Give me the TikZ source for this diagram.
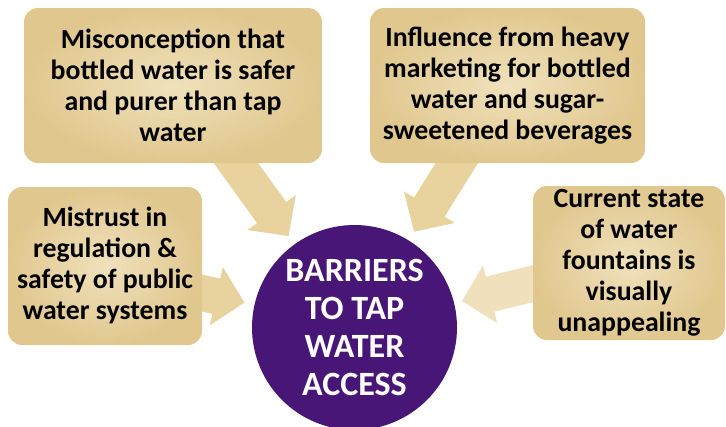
\documentclass[tikz,border=0pt]{standalone}
\usepackage{fontspec}
\setmainfont{Carlito}
\usetikzlibrary{arrows.meta}
\definecolor{papyrus}{RGB}{232,211,158}
\definecolor{papyruslight}{RGB}{240,225,188}
\definecolor{papyrusdark}{RGB}{224,199,142}
\definecolor{grape}{RGB}{72,22,118}
\begin{document}
\begin{tikzpicture}[x=1pt,y=-1pt,
    card/.style={rounded corners=14pt, inner sep=0pt, inner color=papyruslight, outer color=papyrusdark},
    cardtext/.style={align=center, font=\bfseries\fontsize{27.8}{31}\selectfont},
    barrow/.style={line width=36pt, draw=papyrus, -{Triangle[length=29pt,width=58pt]}, shorten >=10pt},
    hub/.style={circle, fill=grape, minimum size=205pt, inner sep=0pt},
    hubtext/.style={align=center, text=white, font=\bfseries\fontsize{34}{38}\selectfont}]
  \useasboundingbox (0,0) rectangle (726,426);
  \node[hub] (barriers) at (354.5,327.5) {};
  \coordinate (mis-c) at (220,141);
  \coordinate (infl-c) at (468,145);
  \coordinate (mistrust-c) at (180,288);
  \coordinate (fount-c) at (560,277);
  \draw[barrow] (mis-c) -- (barriers);
  \draw[barrow] (infl-c) -- (barriers);
  \draw[barrow] (mistrust-c) -- (barriers);
  \draw[barrow, draw=papyruslight, shorten >=8pt] (fount-c) -- (barriers);
  \shade[card] (24,8) rectangle (322,163);
  \shade[card] (370,8) rectangle (645,163);
  \shade[card] (8,187) rectangle (202,345);
  \shade[card] (533,186) rectangle (725,340);
  \node[cardtext] (mis) at (173,85.5) {Misconception that\\bottled water is safer\\and purer than tap\\water};
  \node[cardtext] (infl) at (507.5,85.5) {Influence from heavy\\marketing for bottled\\water and sugar-\\sweetened beverages};
  \node[cardtext] (mistrust) at (105,265) {Mistrust in\\regulation \&\\safety of public\\water systems};
  \node[cardtext] (fount) at (629,263) {Current state\\of water\\fountains is\\visually\\unappealing};
  \node[hubtext] at (barriers) {BARRIERS\\TO TAP\\WATER\\ACCESS};
\end{tikzpicture}
\end{document}
